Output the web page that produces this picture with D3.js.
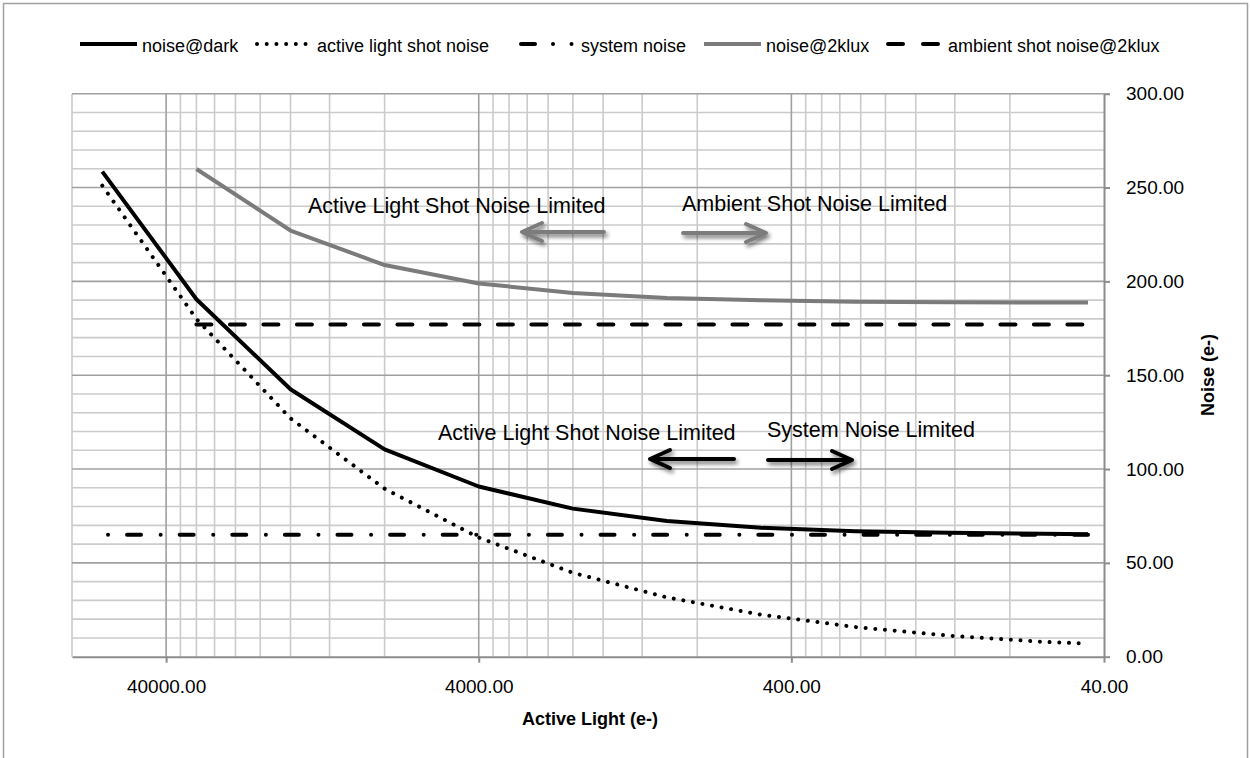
<!DOCTYPE html>
<html>
<head>
<meta charset="utf-8">
<script src="https://cdn.jsdelivr.net/npm/d3@7/dist/d3.min.js"></script>
<style>
  body { margin: 0; background: #fff; }
  text { font-family: "Liberation Sans", Arial, sans-serif; fill: #000; }
</style>
</head>
<body>
<svg width="1250" height="758"></svg>
<script>
// data (x axis runs from high light to low light)
var lightX = [64000, 32000, 16000, 8000, 4000, 2000, 1000, 500, 250, 125, 62.5, 45];
var noiseDark = [258.5, 190.5, 142.5, 110.5, 90.7, 78.9, 72.3, 68.7, 66.9, 66.0, 65.5, 65.3];
var activeShot = [251, 180, 127, 89.5, 63.5, 44.7, 31.6, 22.4, 15.8, 11.2, 7.9, 7.0];
var systemNoise = [65, 65, 65, 65, 65, 65, 65, 65, 65, 65, 65, 65];

var lightX2k = [32000, 16000, 8000, 4000, 2000, 1000, 500, 250, 125, 62.5, 45];
var noise2klux = [259.9, 227.1, 208.7, 198.9, 193.8, 191.2, 189.9, 189.2, 188.9, 188.7, 188.7];
var ambientShot = [177, 177, 177, 177, 177, 177, 177, 177, 177, 177, 177];

var xTicks = [40000, 4000, 400, 40];
var yTicks = [0, 50, 100, 150, 200, 250, 300];

var svg = d3.select("svg"),
	plotLeft = 72, plotRight = 1104, plotTop = 93.7, plotBottom = 656.7; //"top" is taken by window.top

var x = d3.scaleLog().domain([80000, 40]).range([plotLeft, plotRight]); //reversed log axis
var y = d3.scaleLinear().domain([0, 300]).range([plotBottom, plotTop]);

// outer chart border
svg.append("rect")
	.attr("x", 3.5).attr("y", 3.5).attr("width", 1244).attr("height", 770)
	.attr("fill", "none").attr("stroke", "#a0a0a0").attr("stroke-width", 1.5);

var defs = svg.append("defs");
var shadow = defs.append("filter").attr("id", "shadow")
	.attr("x", "-30%").attr("y", "-100%").attr("width", "160%").attr("height", "300%");
shadow.append("feGaussianBlur").attr("in", "SourceAlpha").attr("stdDeviation", 2.2).attr("result", "b");
shadow.append("feOffset").attr("in", "b").attr("dx", 2).attr("dy", 3).attr("result", "o");
shadow.append("feComponentTransfer").attr("in", "o").attr("result", "s")
	.append("feFuncA").attr("type", "linear").attr("slope", 0.55);
var merge = shadow.append("feMerge");
merge.append("feMergeNode").attr("in", "s");
merge.append("feMergeNode").attr("in", "SourceGraphic");

// gridlines
var grid = svg.append("g");
var yMinor = d3.range(0, 301, 10).filter(function(d) { return d % 50 !== 0; });
var xMinor = [];
xTicks.forEach(function(t) {
	for (var m = 2; m <= 9; m++) if (t * m <= 80000) xMinor.push(t * m);
});

grid.selectAll(".ymin").data(yMinor).enter().append("line")
	.attr("x1", plotLeft).attr("x2", plotRight)
	.attr("y1", function(d) { return y(d); }).attr("y2", function(d) { return y(d); })
	.attr("stroke", "#cbcbcb").attr("stroke-width", 1.6);
grid.selectAll(".xmin").data(xMinor).enter().append("line")
	.attr("y1", plotTop).attr("y2", plotBottom)
	.attr("x1", function(d) { return x(d); }).attr("x2", function(d) { return x(d); })
	.attr("stroke", "#cbcbcb").attr("stroke-width", 1.6);
grid.selectAll(".ymaj").data(yTicks.slice(1)).enter().append("line")
	.attr("x1", plotLeft).attr("x2", plotRight)
	.attr("y1", function(d) { return y(d); }).attr("y2", function(d) { return y(d); })
	.attr("stroke", "#a0a0a0").attr("stroke-width", 1.6);
grid.selectAll(".xmaj").data(xTicks.slice(0, 3)).enter().append("line")
	.attr("y1", plotTop).attr("y2", plotBottom)
	.attr("x1", function(d) { return x(d); }).attr("x2", function(d) { return x(d); })
	.attr("stroke", "#a0a0a0").attr("stroke-width", 1.6);

// axes
var xAxis = svg.append("g").attr("transform", "translate(0," + plotBottom + ")")
	.call(d3.axisBottom(x).tickValues(xTicks).tickFormat(d3.format(".2f"))
		.tickSize(6).tickSizeOuter(0).tickPadding(17));
var yAxis = svg.append("g").attr("transform", "translate(" + plotRight + ",0)")
	.call(d3.axisRight(y).tickValues(yTicks).tickFormat(d3.format(".2f"))
		.tickSize(6).tickSizeOuter(0).tickPadding(16));
[xAxis, yAxis].forEach(function(a) {
	a.select(".domain").attr("stroke", "#8c8c8c").attr("stroke-width", 2);
	a.selectAll(".tick line").attr("stroke", "#8c8c8c").attr("stroke-width", 2);
	a.selectAll(".tick text").attr("font-size", 19).attr("font-family", "Liberation Sans, Arial, sans-serif");
});

svg.append("text").attr("x", 590).attr("y", 725).attr("text-anchor", "middle")
	.attr("font-size", 18).attr("font-weight", "bold").text("Active Light (e-)");
svg.append("text").attr("transform", "translate(1214,375) rotate(-90)").attr("text-anchor", "middle")
	.attr("font-size", 18).attr("font-weight", "bold").text("Noise (e-)");

// series
var line = d3.line()
	.x(function(d) { return x(d[0]); })
	.y(function(d) { return y(d[1]); });

var series = [
	{ name: "noise@dark", xs: lightX, ys: noiseDark, color: "#000", width: 4, dash: null, cap: "butt" },
	{ name: "active light shot noise", xs: lightX, ys: activeShot, color: "#000", width: 4, dash: "0.01 9.7", cap: "round" },
	{ name: "system noise", xs: lightX, ys: systemNoise, color: "#000", width: 4, dash: "14 19 0.01 19.6", cap: "round", reverse: true },
	{ name: "noise@2klux", xs: lightX2k, ys: noise2klux, color: "#7b7b7b", width: 4, dash: null, cap: "butt" },
	{ name: "ambient shot noise@2klux", xs: lightX2k, ys: ambientShot, color: "#000", width: 4, dash: "15 18.5", cap: "round" }
];

series.forEach(function(s) {
	var pts = s.xs.map(function(v, i) { return [v, s.ys[i]]; });
	if (s.reverse) pts.reverse(); //excel draws this one from the low light end
	svg.append("path")
		.attr("d", line(pts))
		.attr("fill", "none")
		.attr("stroke", s.color)
		.attr("stroke-width", s.width)
		.attr("stroke-linecap", s.cap)
		.attr("stroke-linejoin", "round")
		.attr("stroke-dasharray", s.dash);
});

// legend
var legendX = [80, 255, 519, 704, 886];
var legendDash = [null, "0.01 9.7", "14 18 0.01 18.5 0.01 100", null, "15 20"];
var legend = svg.append("g");
series.forEach(function(s, i) {
	var lx = legendX[i];
	legend.append("line")
		.attr("x1", lx + (s.cap === "round" ? 2 : 0)).attr("x2", lx + 57 - (s.cap === "round" ? 2 : 0))
		.attr("y1", 44).attr("y2", 44)
		.attr("stroke", s.color).attr("stroke-width", s.width)
		.attr("stroke-linecap", s.cap)
		.attr("stroke-dasharray", legendDash[i]);
	legend.append("text")
		.attr("x", lx + 62).attr("y", 45.5).attr("dy", "0.35em")
		.attr("font-size", 18).text(s.name);
});

// annotations
var notes = [
	{ text: "Active Light Shot Noise Limited", x: 308, y: 205 },
	{ text: "Ambient Shot Noise Limited", x: 682, y: 203 },
	{ text: "Active Light Shot Noise Limited", x: 438, y: 432 },
	{ text: "System Noise Limited", x: 767, y: 429 }
];
svg.selectAll(".note").data(notes).enter().append("text")
	.attr("x", function(d) { return d.x; })
	.attr("y", function(d) { return d.y; })
	.attr("dy", "0.35em")
	.attr("font-size", 21.5)
	.text(function(d) { return d.text; });

var arrows = [
	{ from: 604, to: 522, y: 232, color: "#7b7b7b" },
	{ from: 683, to: 766, y: 233, color: "#7b7b7b" },
	{ from: 734, to: 650, y: 459, color: "#000" },
	{ from: 768, to: 852, y: 460, color: "#000" }
];
arrows.forEach(function(a) {
	var dir = a.to > a.from ? 1 : -1;
	var g = svg.append("g").attr("filter", "url(#shadow)");
	g.append("path")
		.attr("d", "M" + a.from + "," + a.y + "H" + a.to +
			"M" + (a.to - dir * 20) + "," + (a.y - 9) + "L" + a.to + "," + a.y + "L" + (a.to - dir * 20) + "," + (a.y + 9))
		.attr("fill", "none")
		.attr("stroke", a.color)
		.attr("stroke-width", 4)
		.attr("stroke-linecap", "round")
		.attr("stroke-linejoin", "round");
});
</script>
</body>
</html>
